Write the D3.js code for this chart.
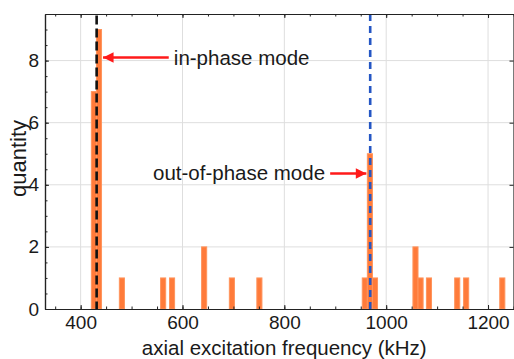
<!DOCTYPE html>
<html>
<head>
<meta charset="utf-8">
<script src="https://cdn.jsdelivr.net/npm/d3@7"></script>
<style>
  body { margin: 0; background: #fff; }
  svg text { font-family: "Liberation Sans", Arial, sans-serif; fill: #1a1a1a; }
</style>
</head>
<body>
<div id="chart"></div>
<script>
// histogram bins: centre frequency (kHz) and number of ions
const binCenters = [426, 436, 481, 562, 579.5, 642.5, 697, 751, 958, 968, 978, 1057.5, 1067.5, 1084, 1139.5, 1157, 1228];
const binCounts  = [7,   9,   1,   1,   1,     2,     1,   1,   1,   5,   1,   2,      1,      1,    1,      1,    1];
const binWidth = 10;

const xTicks = [400, 600, 800, 1000, 1200];
const yTicks = [0, 2, 4, 6, 8];

// mode positions (kHz)
const inPhase = 431.4;
const outOfPhase = 968.6;

// annotations: arrow tail/tip in data units
const labels = [
  { text: "in-phase mode", tx: 583, ty: 7.86, anchor: "start", x1: 573, x2: 444, y: 8.1 },
  { text: "out-of-phase mode", tx: 880, ty: 4.15, anchor: "end", x1: 890, x2: 961, y: 4.36 }
];

const width = 514, height = 359;
const mLeft = 45, mRight = 513.5, mTop = 14, mBottom = 309;

const svg = d3.select('#chart').append('svg')
    .attr('width', width)
    .attr('height', height);

const x = d3.scaleLinear().domain([330, 1250]).range([mLeft, mRight]);
const y = d3.scaleLinear().domain([0, 9.5]).range([mBottom, mTop]);

// grid
svg.append('g').selectAll('line')
    .data(xTicks).enter().append('line')
    .attr('x1', d => x(d)).attr('x2', d => x(d))
    .attr('y1', mTop).attr('y2', mBottom)
    .attr('stroke', '#dedede').attr('stroke-width', 1);
svg.append('g').selectAll('line')
    .data(yTicks.slice(1)).enter().append('line')
    .attr('x1', mLeft).attr('x2', mRight)
    .attr('y1', d => y(d)).attr('y2', d => y(d))
    .attr('stroke', '#dedede').attr('stroke-width', 1);

// bars
svg.append('g').selectAll('rect')
    .data(binCenters).enter().append('rect')
    .attr('x', d => x(d - binWidth / 2))
    .attr('width', x(binWidth) - x(0))
    .attr('y', (d, i) => y(binCounts[i]))
    .attr('height', (d, i) => y(0) - y(binCounts[i]))
    .attr('fill', '#ff7b3a')
    .attr('stroke', '#ff945c')
    .attr('stroke-width', 1);

// mode lines
svg.append('line')
    .attr('x1', x(inPhase)).attr('x2', x(inPhase))
    .attr('y1', y(9.45)).attr('y2', mBottom)
    .attr('stroke', '#111').attr('stroke-width', 2.6)
    .attr('stroke-dasharray', '9,4');
svg.append('line')
    .attr('x1', x(outOfPhase)).attr('x2', x(outOfPhase))
    .attr('y1', mTop).attr('y2', mBottom)
    .attr('stroke', '#2456c4').attr('stroke-width', 2.6)
    .attr('stroke-dasharray', '7,5');

// axes with inward ticks
const minorX = d3.range(350, 1251, 50);
const minorY = d3.range(0, 9.5, 0.5);

function addAxis(axis, tf) {
    const g = svg.append('g').attr('transform', tf).call(axis);
    g.select('.domain').attr('stroke', '#222').attr('stroke-width', 1.2);
    g.selectAll('.tick line').attr('stroke', '#222');
    return g;
}

const gx = addAxis(d3.axisBottom(x).tickValues(xTicks).tickFormat(d3.format('d'))
    .tickSize(-4).tickPadding(6).tickSizeOuter(0), `translate(0,${mBottom})`);
gx.selectAll('text').style('font-size', '19px').attr('dy', '0.75em');
addAxis(d3.axisBottom(x).tickValues(minorX).tickSize(-2.5).tickFormat('').tickSizeOuter(0), `translate(0,${mBottom})`);

const gy = addAxis(d3.axisLeft(y).tickValues(yTicks).tickSize(-4).tickPadding(6).tickSizeOuter(0), `translate(${mLeft},0)`);
gy.selectAll('text').style('font-size', '19px');
addAxis(d3.axisLeft(y).tickValues(minorY).tickSize(-2.5).tickFormat('').tickSizeOuter(0), `translate(${mLeft},0)`);

addAxis(d3.axisTop(x).tickValues(xTicks).tickSize(-4).tickFormat('').tickSizeOuter(0), `translate(0,${mTop})`);
addAxis(d3.axisTop(x).tickValues(minorX).tickSize(-2.5).tickFormat('').tickSizeOuter(0), `translate(0,${mTop})`);
addAxis(d3.axisRight(y).tickValues(yTicks).tickSize(-4).tickFormat('').tickSizeOuter(0), `translate(${mRight},0)`);

// axis titles
svg.append('text')
    .attr('x', (mLeft + mRight) / 2 + 5).attr('y', 355)
    .attr('text-anchor', 'middle')
    .style('font-size', '20.5px')
    .text('axial excitation frequency (kHz)');
svg.append('text')
    .attr('transform', `translate(26,${(mTop + mBottom) / 2 - 3}) rotate(-90)`)
    .attr('text-anchor', 'middle')
    .style('font-size', '22px')
    .text('quantity');

// annotations
svg.append('defs').append('marker')
    .attr('id', 'head')
    .attr('viewBox', '0 0 10 10')
    .attr('refX', 10).attr('refY', 5)
    .attr('markerWidth', 7.5).attr('markerHeight', 4.2)
    .attr('markerUnits', 'strokeWidth')
    .attr('orient', 'auto')
    .append('path').attr('d', 'M0,0 L10,5 L0,10 Z').attr('fill', '#ff1a1a');

const ann = svg.append('g');
ann.selectAll('line')
    .data(labels).enter().append('line')
    .attr('x1', d => x(d.x1)).attr('x2', d => x(d.x2))
    .attr('y1', d => y(d.y)).attr('y2', d => y(d.y))
    .attr('stroke', '#ff1a1a').attr('stroke-width', 2.5)
    .attr('marker-end', 'url(#head)');
ann.selectAll('text')
    .data(labels).enter().append('text')
    .attr('x', d => x(d.tx)).attr('y', d => y(d.ty))
    .attr('text-anchor', d => d.anchor)
    .style('font-size', '20.5px')
    .text(d => d.text);
</script>
</body>
</html>
